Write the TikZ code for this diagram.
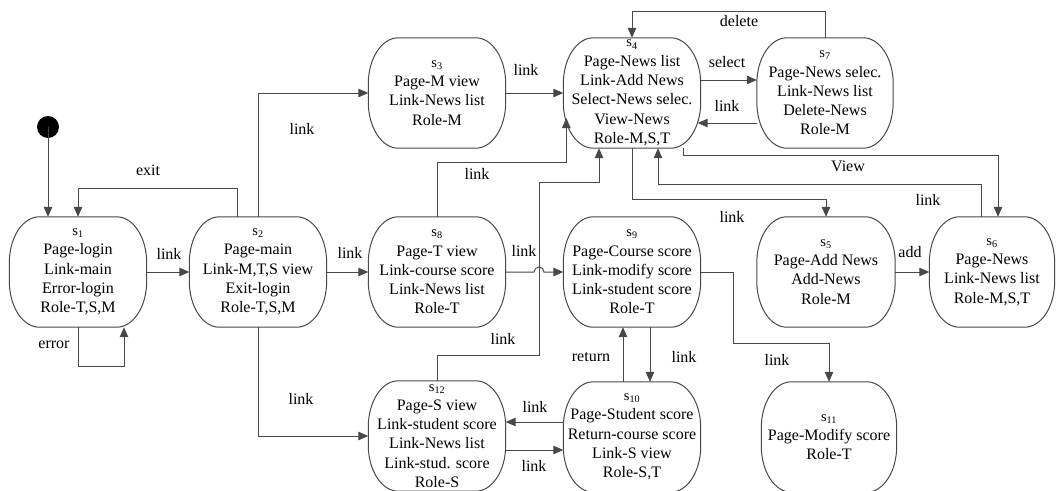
\documentclass[tikz,border=0pt]{standalone}
\usepackage{fontspec}
\setmainfont{Liberation Serif}
\usetikzlibrary{arrows.meta}
\definecolor{linec}{HTML}{484848}
\newcommand\stout[1]{%
 \draw[stline] ([xshift=30pt]#1.north west) -- ([xshift=-30pt]#1.north east)
   arc[start angle=90,end angle=0,x radius=30pt,y radius=46pt]
   -- ([yshift=46pt]#1.south east)
   arc[start angle=0,end angle=-90,x radius=30pt,y radius=46pt]
   -- ([xshift=30pt]#1.south west)
   arc[start angle=270,end angle=180,x radius=30pt,y radius=46pt]
   -- ([yshift=-46pt]#1.north west)
   arc[start angle=180,end angle=90,x radius=30pt,y radius=46pt] -- cycle;}
\newcommand\stlab[1]{{\fontsize{14.5}{14}\selectfont s\textsubscript{#1}}}
\begin{document}
\begin{tikzpicture}[x=1pt,y=1pt,
  st/.style={minimum width=137pt,minimum height=110pt,inner sep=0pt,align=center,
    font=\fontsize{16}{19.3}\selectfont},
  stline/.style={draw=linec,line width=1pt},
  arr/.style={draw=linec,line width=1pt,-{Triangle[length=10pt,width=8.5pt]}},
  lbl/.style={inner sep=0pt,font=\fontsize{16}{19}\selectfont}]
\useasboundingbox (0,0) rectangle (1056,-490);
% initial
\fill (48,-127) circle (11pt);
\coordinate (init) at (48,-127);
% states
\node[st] (s1) at (78,-272) {\stlab{1}\\Page-login\\Link-main\\Error-login\\Role-T,S,M};
\node[st] (s2) at (258,-272) {\stlab{2}\\Page-main\\Link-M,T,S view\\Exit-login\\Role-T,S,M};
\node[st] (s3) at (437,-93) {\stlab{3}\\Page-M view\\Link-News list\\Role-M};
\node[st] (s4) at (632,-93) {\stlab{4}\\Page-News list\\Link-Add News\\Select-News selec.\\View-News\\Role-M,S,T};
\node[st,minimum width=136pt] (s7) at (825,-93) {\stlab{7}\\Page-News selec.\\Link-News list\\Delete-News\\Role-M};
\node[st,minimum width=138pt] (s5) at (826,-272) {\stlab{5}\\Page-Add News\\Add-News\\Role-M};
\node[st,minimum width=125pt] (s6) at (992,-272) {\stlab{6}\\Page-News\\Link-News list\\Role-M,S,T};
\node[st] (s8) at (437,-272) {\stlab{8}\\Page-T view\\Link-course score\\Link-News list\\Role-T};
\node[st] (s9) at (632,-272) {\stlab{9}\\Page-Course score\\Link-modify score\\Link-student score\\Role-T};
\node[st] (s10) at (632,-437) {\stlab{10}\\Page-Student score\\Return-course score\\Link-S view\\Role-S,T};
\node[st] (s12) at (437,-436) {\stlab{12}\\Page-S view\\Link-student score\\Link-News list\\Link-stud. score\\Role-S};
\node[st,minimum width=135pt] (s11) at (829,-437) {\stlab{11}\\Page-Modify score\\Role-T};
\foreach \n in {s1,s2,s3,s4,s5,s6,s7,s8,s9,s10,s11,s12} {\stout{\n}}
% connectors
\draw[arr] (init) -- (init |- s1.north);
\draw[arr] ([xshift=-21pt]s2.north) -- ++(0,28) -| (s1.north);
\draw[arr] (s1.south) -- ++(0,-39) -| ([xshift=46pt]s1.south);
\draw[arr] (s1) -- (s2);
\draw[arr] (s2.north) |- (s3.west);
\draw[arr] (s2) -- (s8);
\draw[arr] (s2.south) |- (s12.west);
\draw[arr] (s3) -- (s4);
\draw[arr] (s8.north) -- ++(0,54) -| ([xshift=3pt,yshift=-25pt]s4.west);
\draw[arr] (s12.north) -- ++(0,25) -| (539,-182) -| ([xshift=-33pt]s4.south);
\draw[arr] (s8.east) -- (534,-272) arc[start angle=180,end angle=0,radius=5pt] -- (s9.west);
\draw[arr] ([yshift=13pt]s4.east) -- ([yshift=13pt]s7.west);
\draw[arr] ([yshift=-30pt]s7.west) -- ([xshift=-3pt,yshift=-30pt]s4.east);
\draw[arr] (s7.north) -- ++(0,26) -| (s4.north);
\draw[arr] ([xshift=51pt]s4.south) -- ++(0,-7) -| ([xshift=6pt]s6.north);
\draw[arr] ([xshift=-11pt]s6.north) -- ++(0,32) -| ([xshift=26pt]s4.south);
\draw[arr] (s4.south) -- ++(0,-51) -| (s5.north);
\draw[arr] (s5) -- (s6);
\draw[arr] (s9.east) -| (733,-343) -| (s11.north);
\draw[arr] ([xshift=18pt]s9.south) -- ([xshift=18pt]s10.north);
\draw[arr] ([xshift=-9pt]s10.north) -- ([xshift=-9pt]s9.south);
\draw[arr] ([yshift=15pt]s10.west) -- ([yshift=14pt]s12.east);
\draw[arr] ([yshift=-14pt]s12.east) -- ([yshift=-13pt]s10.west);
% labels
\node[lbl] (l1) at (148,-170) {exit};
\node[lbl] (l2) at (54,-345) {error};
\node[lbl] (l3) at (169,-254) {link};
\node[lbl] (l4) at (302,-129) {link};
\node[lbl] (l5) at (350,-253) {link};
\node[lbl] (l6) at (301,-399) {link};
\node[lbl] (l7) at (526,-70) {link};
\node[lbl] (l8) at (477,-174) {link};
\node[lbl] (l9) at (739,-21) {delete};
\node[lbl] (l10) at (727,-62) {select};
\node[lbl] (l11) at (727,-106) {link};
\node[lbl] (l12) at (848,-166) {View};
\node[lbl] (l13) at (928,-200) {link};
\node[lbl] (l14) at (732,-217) {link};
\node[lbl] (l15) at (910,-252) {add};
\node[lbl] (l16) at (524,-251) {link};
\node[lbl] (l17) at (503,-339) {link};
\node[lbl] (l18) at (591,-357) {return};
\node[lbl] (l19) at (684,-357) {link};
\node[lbl] (l20) at (535,-407) {link};
\node[lbl] (l21) at (534,-466) {link};
\node[lbl] (l22) at (777,-360) {link};
\end{tikzpicture}
\end{document}
